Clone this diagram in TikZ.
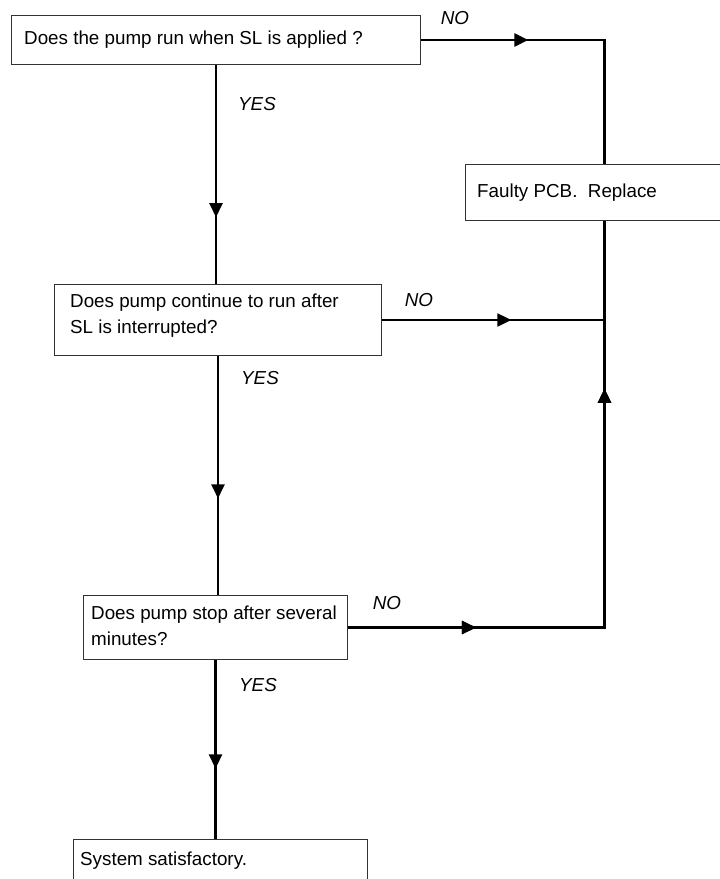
\documentclass[tikz,border=0pt]{standalone}
\usepackage{fontspec}
\setmainfont{Liberation Sans}
\usetikzlibrary{arrows.meta,decorations.markings}
\begin{document}
\begin{tikzpicture}[x=1pt,y=-1pt,
  box/.style={draw=black!80, line width=1pt, rectangle, inner sep=0pt, anchor=north west},
  txt/.style={inner sep=0pt, anchor=west, align=left, font=\fontsize{18.8}{26}\selectfont},
  lab/.style={inner sep=0pt, font=\fontsize{18.8}{22}\selectfont\itshape},
  conn/.style={line width=2.4pt, black},
  tipat/.style={postaction={decorate}, decoration={markings, mark=at position #1 with {\arrow{Triangle[length=14pt,width=13pt]}}}}
]
\useasboundingbox (0,0) rectangle (720,879);
% boxes
\node[box, minimum width=409pt, minimum height=49pt] (b1) at (11,15) {};
\node[box, minimum width=278pt, minimum height=56pt] (pcb) at (465,164) {};
\node[box, minimum width=327pt, minimum height=71pt] (b2) at (54,284) {};
\node[box, minimum width=264pt, minimum height=64pt] (b3) at (83,595) {};
\node[box, minimum width=294pt, minimum height=42pt] (b4) at (73,839) {};
% texts
\node[txt] (t1) at ([xshift=13pt]b1.west) {Does the pump run when SL is applied ?};
\node[txt] (tp) at ([xshift=12pt]pcb.west) {Faulty PCB.\ \ Replace};
\node[txt] (t2) at ([xshift=16pt,yshift=4pt]b2.west) {Does pump continue to run after\\SL is interrupted?};
\node[txt] (t3) at ([xshift=8pt,yshift=1.5pt]b3.west) {Does pump stop after several\\minutes?};
\node[txt] (t4) at ([xshift=7pt]b4.west) {System satisfactory.};
% connectors
\draw[conn, tipat=0.695] (b1.south) -- (b1.south |- b2.north);
\draw[conn, tipat=0.596] (b2.south) -- (b2.south |- b3.north);
\draw[conn, tipat=0.606] (b3.south) -- (b3.south |- b4.north);
\draw[conn, tipat=0.349] (b1.east) -| (pcb.north);
\draw[conn, tipat=0.581] (b2.east) -- (b2.east -| pcb.south);
\draw[conn, tipat=0.193, tipat=0.747] (b3.east) -| (pcb.south);
% labels
\node[lab] (n1) at (455,18) {NO};
\node[lab] (n2) at (419,300) {NO};
\node[lab] (n3) at (387,603) {NO};
\node[lab] (y1) at (257,104) {YES};
\node[lab] (y2) at (260,378) {YES};
\node[lab] (y3) at (258,685) {YES};
\end{tikzpicture}
\end{document}
